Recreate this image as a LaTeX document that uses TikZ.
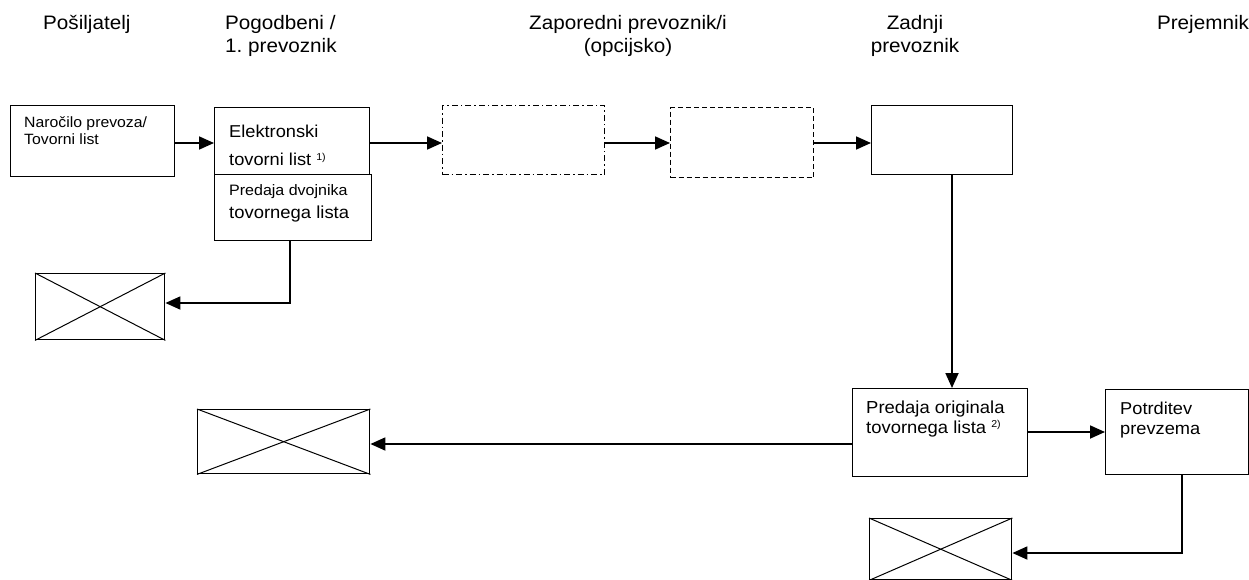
\documentclass[tikz,border=0pt]{standalone}
\usepackage{fontspec}
\setmainfont[FakeStretch=1.06]{Liberation Sans}
\usetikzlibrary{arrows.meta}
\frenchspacing
\tikzset{
  box/.style={draw, line width=1.4pt, inner sep=0pt, anchor=north west},
  diag/.style={line width=1pt},
  arr/.style={line width=1.8pt, -{Triangle[length=15pt,width=13pt]}},
  hdr/.style={font=\fontsize{19.5}{23}\selectfont, inner sep=0pt, align=center, anchor=base},
  txt/.style={inner sep=0pt, align=left, anchor=base west},
}
\newcommand{\supnote}[1]{\raisebox{6pt}{\fontsize{10}{10}\selectfont #1}}
\begin{document}
\begin{tikzpicture}[x=1pt,y=-1pt]
\useasboundingbox (0,0) rectangle (1249,580);
% headers (anchor = baseline of last line)
\node[hdr, anchor=base west] (h1) at (43,30) {Pošiljatelj};
\node[hdr, anchor=base west, align=left] (h2) at (225,53) {Pogodbeni /\\1. prevoznik};
\node[hdr] (h3) at (628,53) {Zaporedni prevoznik/i\\(opcijsko)};
\node[hdr] (h4) at (915,53) {Zadnji\\prevoznik};
\node[hdr] (h5) at (1203,30) {Prejemnik};
% boxes
\node[box, minimum width=164pt, minimum height=71pt] (b1) at (10,105) {};
\node[box, minimum width=155pt, minimum height=67pt] (b2) at (214,107) {};
\node[box, minimum width=157pt, minimum height=66pt] (dv) at (214,174) {};
\node[box, minimum width=162pt, minimum height=69pt, dash pattern=on 6pt off 3pt on 1.5pt off 3pt] (c1) at (442,105) {};
\node[box, minimum width=143pt, minimum height=70pt, dash pattern=on 5pt off 3pt] (c2) at (670,107) {};
\node[box, minimum width=141pt, minimum height=69pt] (zd) at (871,105) {};
\node[box, minimum width=175pt, minimum height=88pt] (po) at (852,388) {};
\node[box, minimum width=143pt, minimum height=85pt] (pt) at (1105,389) {};
% crossed boxes
\node[box, minimum width=129pt, minimum height=66pt] (x1) at (35,273) {};
\node[box, minimum width=172pt, minimum height=64pt] (x2) at (197,409) {};
\node[box, minimum width=142pt, minimum height=61pt] (x3) at (869,518) {};
\foreach \n in {x1,x2,x3}{
  \draw[diag] (\n.north west) -- (\n.south east);
  \draw[diag] (\n.south west) -- (\n.north east);
}
% texts (anchor = baseline of last line)
\node[txt, font=\fontsize{14.9}{17}\selectfont] (t1) at (24,145) {Naročilo prevoza/\\Tovorni list};
\node[txt, font=\fontsize{17.2}{28}\selectfont] (t2) at (229,166) {Elektronski\\tovorni list \supnote{1)}};
\node[txt, font=\fontsize{17.4}{22}\selectfont] (t3) at (229,218) {{\fontsize{15.1}{22}\selectfont Predaja dvojnika}\\tovornega lista};
\node[txt, font=\fontsize{17.4}{20}\selectfont] (t4) at (866,433) {Predaja originala\\tovornega lista \supnote{2)}};
\node[txt, font=\fontsize{17.2}{20}\selectfont] (t5) at (1120,434) {Potrditev\\prevzema};
% connectors
\draw[arr] (b1.east |- 0,143) -- (b2.west |- 0,143);
\draw[arr] (b2.east |- 0,143) -- (c1.west |- 0,143);
\draw[arr] (c1.east |- 0,143) -- (c2.west |- 0,143);
\draw[arr] (c2.east |- 0,143) -- (zd.west |- 0,143);
\draw[arr] (zd.south -| 952,0) -- (po.north -| 952,0);
\draw[arr] (dv.south -| 290,0) |- (x1.east |- 0,303);
\draw[arr] (po.west |- 0,444) -- (x2.east |- 0,444);
\draw[arr] (po.east |- 0,432) -- (pt.west |- 0,432);
\draw[arr] (pt.south -| 1182,0) |- (x3.east |- 0,553);
\end{tikzpicture}
\end{document}
